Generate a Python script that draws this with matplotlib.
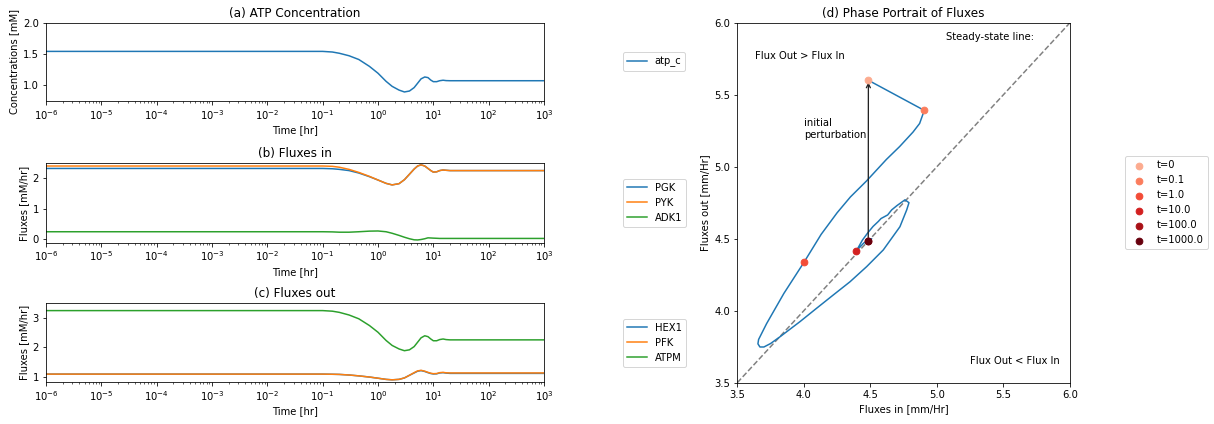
import numpy as np
import matplotlib
matplotlib.use("Agg")
import matplotlib.pyplot as plt
from matplotlib.ticker import LogLocator, NullFormatter

# ---------------- data ----------------
time = [1e-6, 0.1, 0.15, 0.2, 0.3, 0.45, 0.7, 1.0, 1.4, 1.8, 2.4, 3.0, 3.7,
        4.5, 5.2, 6.0, 7.0, 8.0, 9.0, 10.0, 11.5, 13.0, 15.0, 17.0, 20.0, 1000.0]

atp_c = [1.54, 1.54, 1.53, 1.51, 1.47, 1.41, 1.30, 1.19, 1.06, 0.98, 0.92, 0.89, 0.905,
         0.96, 1.03, 1.10, 1.13, 1.12, 1.08, 1.055, 1.055, 1.07, 1.078, 1.072, 1.07, 1.07]

pgk = [2.32, 2.32, 2.31, 2.29, 2.25, 2.17, 2.05, 1.94, 1.83, 1.78, 1.82, 1.95, 2.13,
       2.30, 2.40, 2.44, 2.40, 2.32, 2.25, 2.20, 2.21, 2.25, 2.27, 2.26, 2.25, 2.25]
pyk = [2.40, 2.40, 2.39, 2.36, 2.29, 2.19, 2.06, 1.94, 1.83, 1.78, 1.82, 1.95, 2.13,
       2.30, 2.40, 2.44, 2.40, 2.32, 2.25, 2.20, 2.21, 2.25, 2.27, 2.26, 2.25, 2.25]
adk1 = [0.24, 0.24, 0.235, 0.225, 0.225, 0.24, 0.26, 0.265, 0.24, 0.19, 0.12, 0.06, 0.01,
        -0.025, -0.03, -0.015, 0.01, 0.04, 0.035, 0.03, 0.025, 0.02, 0.02, 0.02, 0.02, 0.02]

hex1 = [1.09, 1.09, 1.085, 1.08, 1.06, 1.03, 0.99, 0.95, 0.91, 0.895, 0.91, 0.96, 1.05,
        1.13, 1.19, 1.21, 1.18, 1.14, 1.11, 1.095, 1.10, 1.13, 1.14, 1.125, 1.115, 1.115]
pfk = [1.09, 1.09, 1.085, 1.08, 1.06, 1.03, 0.99, 0.95, 0.91, 0.895, 0.91, 0.96, 1.05,
       1.14, 1.20, 1.22, 1.19, 1.15, 1.12, 1.105, 1.11, 1.14, 1.15, 1.135, 1.13, 1.13]
atpm = [3.26, 3.26, 3.24, 3.20, 3.11, 2.98, 2.75, 2.52, 2.24, 2.07, 1.95, 1.89, 1.92,
        2.03, 2.18, 2.33, 2.40, 2.37, 2.29, 2.23, 2.23, 2.27, 2.29, 2.27, 2.26, 2.26]

flux_in = [4.485, 4.905, 4.87, 4.82, 4.72, 4.62, 4.47, 4.35, 4.25, 4.13, 4.001, 3.85,
           3.72, 3.66, 3.655, 3.67, 3.70, 3.75, 3.821, 3.971, 4.096, 4.221, 4.347,
           4.472, 4.597, 4.722, 4.773, 4.79, 4.76, 4.70, 4.66, 4.63, 4.58, 4.56,
           4.52, 4.48, 4.44, 4.394, 4.45, 4.51, 4.484]
flux_out = [5.60, 5.391, 5.30, 5.24, 5.14, 5.05, 4.90, 4.79, 4.68, 4.53, 4.336, 4.12,
            3.91, 3.80, 3.77, 3.748, 3.748, 3.772, 3.819, 3.924, 4.017, 4.109, 4.201,
            4.306, 4.422, 4.583, 4.70, 4.75, 4.77, 4.73, 4.70, 4.665, 4.64, 4.62,
            4.585, 4.54, 4.49, 4.414, 4.47, 4.50, 4.484]

marker_labels = ["t=0", "t=0.1", "t=1.0", "t=10.0", "t=100.0", "t=1000.0"]
marker_in = [4.485, 4.905, 4.001, 4.394, 4.484, 4.484]
marker_out = [5.60, 5.391, 4.336, 4.414, 4.482, 4.484]

time_ticks = [1e-6, 1e-5, 1e-4, 1e-3, 1e-2, 1e-1, 1e0, 1e1, 1e2, 1e3]

# ---------------- figure ----------------
W, H = 1214, 424
fig = plt.figure(figsize=(W / 72, H / 72), dpi=72)

left, width = 46 / W, 498 / W
ax_a = fig.add_axes([left, 0.7625, width, 0.1840])
ax_b = fig.add_axes([left, 0.4276, width, 0.1873])
ax_c = fig.add_axes([left, 0.0997, width, 0.1850])
ax_d = fig.add_axes([737.3 / W, 0.0974, 332.7 / W, 0.8491])

# (a)
ax_a.plot(time, atp_c, label="atp_c")
ax_a.set_ylim(0.75, 2.0)
ax_a.set_ylabel("Concentrations [mM]")
ax_a.set_title("(a) ATP Concentration")

# (b)
ax_b.plot(time, pgk, label="PGK")
ax_b.plot(time, pyk, label="PYK")
ax_b.plot(time, adk1, label="ADK1")
ax_b.set_ylim(-0.12, 2.49)
ax_b.set_ylabel("Fluxes [mM/hr]")
ax_b.set_title("(b) Fluxes in")

# (c)
ax_c.plot(time, hex1, label="HEX1")
ax_c.plot(time, pfk, label="PFK")
ax_c.plot(time, atpm, label="ATPM")
ax_c.set_ylim(0.83, 3.51)
ax_c.set_ylabel("Fluxes [mM/hr]")
ax_c.set_title("(c) Fluxes out")

for ax in (ax_a, ax_b, ax_c):
    ax.set_xscale("log")
    ax.set_xlim(1e-6, 1e3)
    ax.set_xticks(time_ticks)
    ax.xaxis.set_minor_locator(LogLocator(base=10, subs=np.arange(2, 10), numticks=20))
    ax.xaxis.set_minor_formatter(NullFormatter())
    ax.set_xlabel("Time [hr]")
    ax.legend(loc="center left", bbox_to_anchor=(1.148, 0.5))

# (d)
ax_d.plot([3.5, 6.0], [3.5, 6.0], ls="--", color="gray")
ax_d.plot(flux_in, flux_out, color="tab:blue", zorder=2)
ax_d.annotate("", xy=(marker_in[0], marker_out[0]), xytext=(marker_in[-1], marker_out[-1]),
              arrowprops=dict(arrowstyle="->", color="#222222", lw=1.3))
colors = plt.cm.Reds(np.linspace(0.3, 1.0, len(marker_labels)))
for lab, xi, yo, c in zip(marker_labels, marker_in, marker_out, colors):
    ax_d.scatter([xi], [yo], s=45, color=c, label=lab, zorder=3)
ax_d.text(4.0, 5.2, "initial\nperturbation")
ax_d.text(3.63, 5.75, "Flux Out > Flux In")
ax_d.text(5.07, 5.88, "Steady-state line:")
ax_d.text(5.25, 3.63, "Flux Out < Flux In")
ax_d.set_xlim(3.5, 6.0)
ax_d.set_ylim(3.5, 6.0)
ax_d.set_xticks([3.5, 4.0, 4.5, 5.0, 5.5, 6.0])
ax_d.set_yticks([3.5, 4.0, 4.5, 5.0, 5.5, 6.0])
ax_d.set_xlabel("Fluxes in [mm/Hr]")
ax_d.set_ylabel("Fluxes out [mm/Hr]")
ax_d.set_title("(d) Phase Portrait of Fluxes")
ax_d.legend(loc="center left", bbox_to_anchor=(1.15, 0.5))

fig.savefig("out.png", dpi=72)
